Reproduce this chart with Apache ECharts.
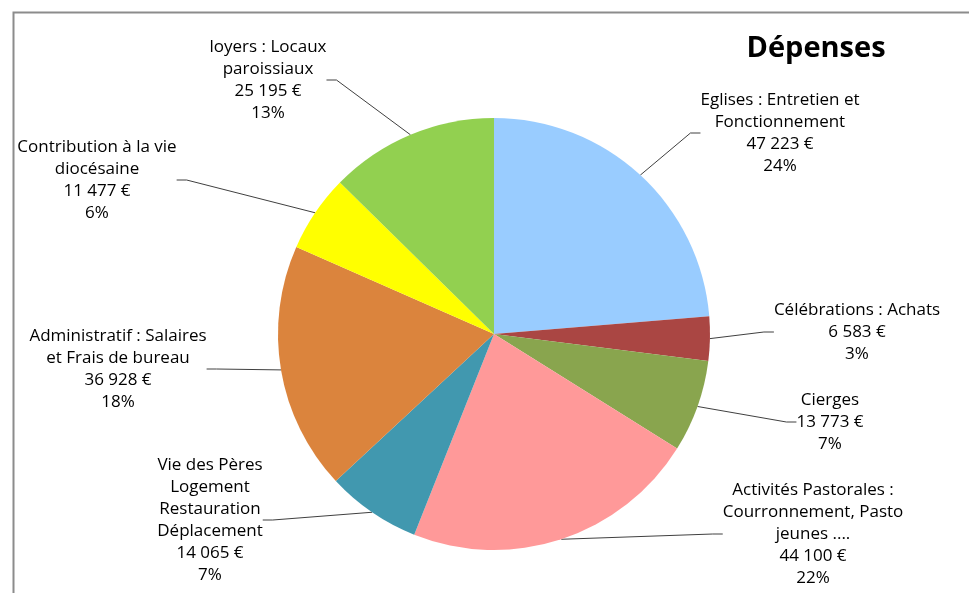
<!DOCTYPE html>
<html>
<head>
<meta charset="utf-8">
<script src="https://cdn.jsdelivr.net/npm/echarts@6/dist/echarts.min.js"></script>
<style>html,body{margin:0;padding:0;background:#fff}#c{width:969px;height:593px}</style>
</head>
<body>
<div id="c"></div>
<script>
const categories = [
  "Eglises : Entretien et\nFonctionnement",
  "Célébrations : Achats",
  "Cierges",
  "Activités Pastorales :\nCourronnement, Pasto\njeunes ....",
  "Vie des Pères\nLogement\nRestauration\nDéplacement",
  "Administratif : Salaires\net Frais de bureau",
  "Contribution à la vie\ndiocésaine",
  "loyers : Locaux\nparoissiaux"
];
const values = [47223, 6583, 13773, 44100, 14065, 36928, 11477, 25195];
const colors = ["#99CCFF", "#AA4643", "#89A54E", "#FF9999", "#4198AF", "#DB843D", "#FFFF00", "#92D050"];
// label anchor (centre x, top y) for each slice label
const labelPos = [[780, 89], [857, 299], [830, 389], [813, 479], [210, 454], [118, 325], [97, 136], [268, 36]];

function fmt(v) { return String(v).replace(/\B(?=(\d{3})+(?!\d))/g, " ") + " €"; }

const chart = echarts.init(document.getElementById('c'), null, {renderer: 'canvas'});
chart.setOption({
  animation: false,
  backgroundColor: '#fff',
  graphic: [{
    type: 'rect', left: 11, top: 10, silent: true,
    shape: {width: 1000, height: 700},
    style: {fill: 'none', stroke: '#8c8c8c', lineWidth: 2}
  }],
  title: {
    text: 'Dépenses', left: 811, top: 29, textAlign: 'center',
    textStyle: {fontFamily: 'Open Sans', fontWeight: 'bold', fontSize: 29, color: '#000'}
  },
  series: [{
    type: 'pie',
    center: [494, 334],
    radius: 216,
    startAngle: 90,
    clockwise: true,
    percentPrecision: 0,
    itemStyle: {borderColor: '#fff', borderWidth: 0},
    data: values.map((v, i) => ({name: categories[i], value: v, itemStyle: {color: colors[i]}})),
    label: {
      show: true, position: 'outside',
      formatter: p => p.name + "\n" + fmt(p.value) + "\n" + p.percent + "%",
      fontFamily: 'Open Sans', fontSize: 17, lineHeight: 22, color: '#000', align: 'center'
    },
    labelLine: {show: true, length: 20, length2: 10, lineStyle: {color: '#404040', width: 1}},
    labelLayout: function (params) {
      const p = labelPos[params.dataIndex];
      return {x: p[0], y: p[1], align: 'center', verticalAlign: 'top'};
    },
    emphasis: {disabled: true}
  }]
});
</script>
</body>
</html>
